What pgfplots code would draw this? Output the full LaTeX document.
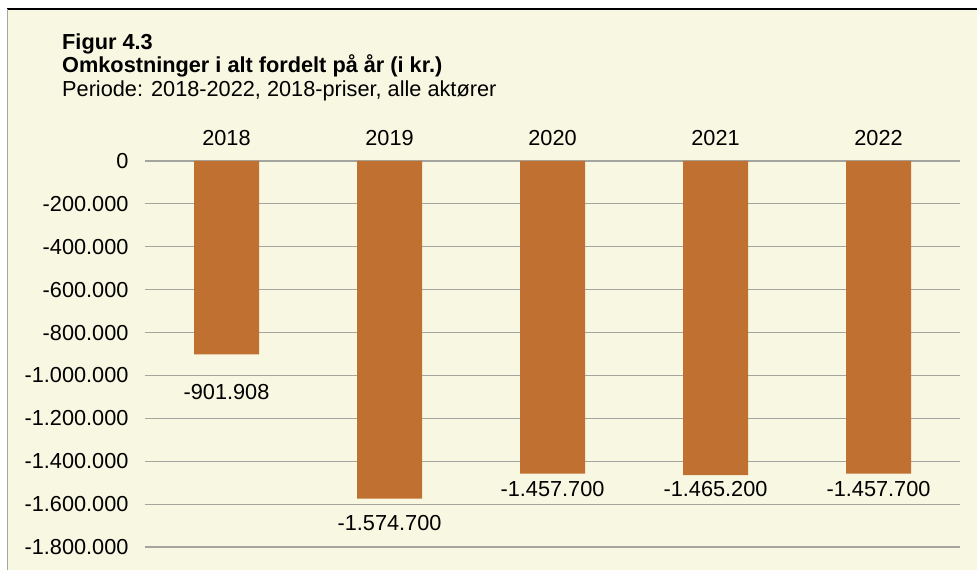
\documentclass[border=0pt]{standalone}
\usepackage{fontspec}
\setmainfont{Liberation Sans}
\usepackage{pgfplots}
\pgfplotsset{compat=1.18}
\definecolor{bgcream}{RGB}{248,247,225}
\definecolor{barc}{RGB}{192,112,48}
\definecolor{gridc}{RGB}{165,165,160}
\newcommand{\chartfont}{\fontsize{21.8}{26}\selectfont}
\begin{document}
\begin{tikzpicture}[x=1bp,y=1bp]
\path[use as bounding box] (0,0) rectangle (977,570);
\fill[white] (0,0) rectangle (977,570);
\fill[bgcream] (7,0) rectangle (977,561);
\draw[black, line width=1.5bp] (7,561) -- (977,561);
\draw[gray!70, line width=0.8bp] (7,0) -- (7,561);
\node[anchor=base west, inner sep=0, font=\chartfont\bfseries] at (62,520) {Figur 4.3};
\node[anchor=base west, inner sep=0, font=\chartfont\bfseries] at (62,497) {Omkostninger i alt fordelt på år (i kr.)};
\node[anchor=base west, inner sep=0, font=\chartfont] at (62,473) {Periode: 2018-2022, 2018-priser, alle aktører};
\begin{axis}[
  at={(145bp,23bp)}, anchor=south west,
  scale only axis, width=815bp, height=386bp,
  xmin=-0.5, xmax=4.5, ymin=-1800000, ymax=0,
  xtick={0,1,2,3,4},
  xticklabels={2018,2019,2020,2021,2022},
  xticklabel pos=upper,
  ytick={-1800000,-1600000,-1400000,-1200000,-1000000,-800000,-600000,-400000,-200000,0},
  scaled y ticks=false,
  yticklabel style={xshift=-13bp, /pgf/number format/.cd, fixed, 1000 sep={.}, assume math mode=true},
  xticklabel style={yshift=12bp},
  ticklabel style={font=\chartfont},
  axis line style={draw=none},
  tick style={draw=none},
  major tick length=0pt,
  ymajorgrids,
  grid style={draw=gridc, line width=1.2bp},
  clip=false,
]
\addplot[ybar, bar width=65bp, bar shift=0pt, fill=barc, draw=none] coordinates {
  (0,-901908) (1,-1574700) (2,-1457700) (3,-1465200) (4,-1457700)
};
\addplot[draw=none, mark=none, nodes near coords, point meta=explicit symbolic,
  every node near coord/.style={anchor=center, inner sep=0, font=\chartfont}]
  table[meta=label] {
x y label
0 -1077200 -901.908
1 -1688100 -1.574.700
2 -1529500 -1.457.700
3 -1529500 -1.465.200
4 -1529500 -1.457.700
};
\end{axis}
\end{tikzpicture}
\end{document}
